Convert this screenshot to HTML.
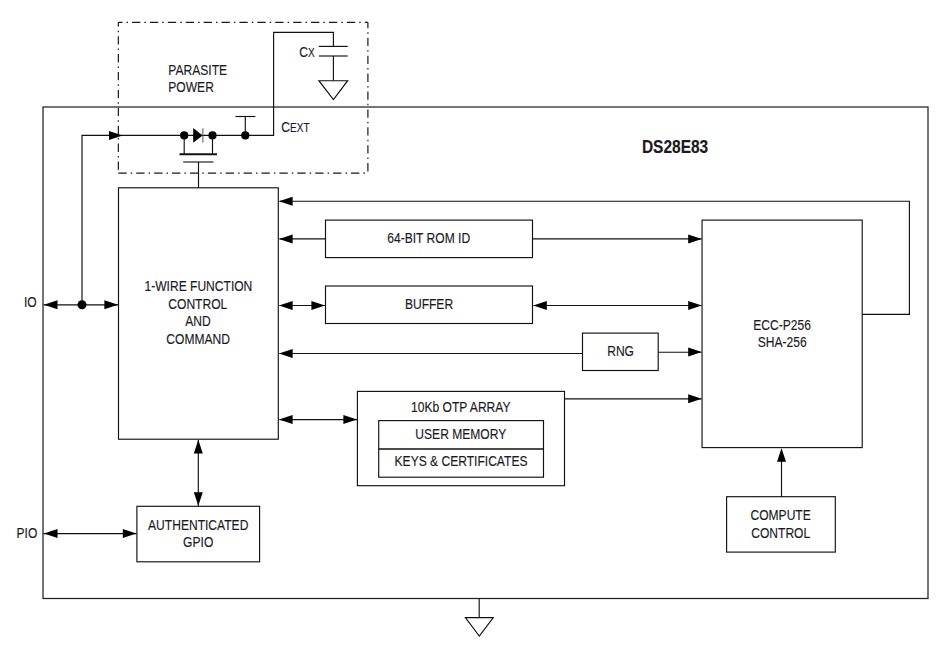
<!DOCTYPE html>
<html><head><meta charset="utf-8"><title>DS28E83 Block Diagram</title>
<style>
html,body{margin:0;padding:0;background:#fff;}
body{width:951px;height:655px;overflow:hidden;}
svg{display:block;}
svg text{font-family:"Liberation Sans",sans-serif;fill:#1b1b1f;stroke:#1b1b1f;stroke-width:0.16px;}
</style></head><body>
<svg width="951" height="655" viewBox="0 0 951 655">
<rect x="0" y="0" width="951" height="655" fill="#fff"/>
<rect x="43.0" y="107.0" width="885.0" height="491.5" fill="none" stroke="#222" stroke-width="1.25"/>
<line x1="118.35" y1="22.3" x2="367.9" y2="22.3" stroke="#1a1a1a" stroke-width="1.2" stroke-dasharray="8.3 4.05 1.5 4.05" stroke-dashoffset="4.2"/>
<line x1="367.9" y1="22.3" x2="367.9" y2="173.1" stroke="#1a1a1a" stroke-width="1.2" stroke-dasharray="8.3 4.05 1.5 4.05" stroke-dashoffset="2.4"/>
<line x1="118.35" y1="22.3" x2="118.35" y2="173.1" stroke="#1a1a1a" stroke-width="1.2" stroke-dasharray="8.3 4.05 1.5 4.05" stroke-dashoffset="4.0"/>
<line x1="118.35" y1="173.1" x2="367.9" y2="173.1" stroke="#1a1a1a" stroke-width="1.2" stroke-dasharray="8.3 4.05 1.5 4.05" stroke-dashoffset="0"/>
<rect x="118.5" y="187.8" width="159.8" height="251.4" fill="none" stroke="#111" stroke-width="1.15"/>
<rect x="325.5" y="220.1" width="207.0" height="37.5" fill="none" stroke="#111" stroke-width="1.15"/>
<rect x="325.5" y="286.0" width="207.0" height="37.5" fill="none" stroke="#111" stroke-width="1.15"/>
<rect x="582.5" y="333.1" width="75.7" height="37.4" fill="none" stroke="#111" stroke-width="1.15"/>
<rect x="702.05" y="220.1" width="160.15" height="227.5" fill="none" stroke="#111" stroke-width="1.15"/>
<rect x="357.4" y="391.4" width="207.1" height="94.3" fill="none" stroke="#111" stroke-width="1.15"/>
<rect x="378.7" y="420.6" width="164.8" height="56.6" fill="none" stroke="#111" stroke-width="1.15"/>
<line x1="378.7" y1="449.0" x2="543.5" y2="449.0" stroke="#111" stroke-width="1.6" />
<rect x="726.6" y="496.7" width="108.7" height="55.4" fill="none" stroke="#111" stroke-width="1.15"/>
<rect x="136.9" y="506.3" width="122.7" height="55.5" fill="none" stroke="#111" stroke-width="1.15"/>
<line x1="43.5" y1="304.8" x2="118.5" y2="304.8" stroke="#111" stroke-width="1.15" />
<polygon points="43.9,304.8 57.5,300.3 57.5,309.3" fill="#000"/>
<polygon points="118.0,304.8 104.4,300.3 104.4,309.3" fill="#000"/>
<circle cx="82.0" cy="304.8" r="4.5" fill="#000"/>
<polyline points="82.0,304.8 82.0,135.4 273.6,135.4 273.6,32.4 333.4,32.4 333.4,46.4" fill="none" stroke="#111" stroke-width="1.15" stroke-linejoin="miter" />
<polygon points="122.6,135.4 109.0,130.9 109.0,139.9" fill="#000"/>
<circle cx="184.2" cy="135.4" r="4.1" fill="#000"/>
<circle cx="212.5" cy="135.4" r="4.1" fill="#000"/>
<circle cx="245.3" cy="135.4" r="4.1" fill="#000"/>
<polygon points="193.2,128.1 193.2,142.7 202.6,135.4" fill="#000"/>
<line x1="202.9" y1="128.3" x2="202.9" y2="142.6" stroke="#555" stroke-width="1.0" />
<line x1="184.2" y1="135.4" x2="184.2" y2="154.2" stroke="#111" stroke-width="1.15" />
<line x1="212.5" y1="135.4" x2="212.5" y2="154.2" stroke="#111" stroke-width="1.15" />
<line x1="179.5" y1="154.3" x2="217.0" y2="154.3" stroke="#111" stroke-width="2.0" />
<line x1="183.2" y1="162.0" x2="213.5" y2="162.0" stroke="#222" stroke-width="1.2" />
<line x1="198.5" y1="162.0" x2="198.5" y2="187.8" stroke="#111" stroke-width="1.15" />
<line x1="235.5" y1="116.5" x2="255.4" y2="116.5" stroke="#111" stroke-width="1.15" />
<line x1="245.3" y1="116.5" x2="245.3" y2="135.4" stroke="#111" stroke-width="1.15" />
<line x1="318.8" y1="46.4" x2="347.7" y2="46.4" stroke="#111" stroke-width="1.15" />
<line x1="318.8" y1="56.0" x2="347.7" y2="56.0" stroke="#111" stroke-width="1.15" />
<line x1="333.4" y1="56.0" x2="333.4" y2="80.7" stroke="#111" stroke-width="1.15" />
<polygon points="318.9,80.7 347.7,80.7 333.4,99.5" fill="none" stroke="#111" stroke-width="1.15"/>
<polyline points="862.2,314.3 909.4,314.3 909.4,201.2 279.5,201.2" fill="none" stroke="#111" stroke-width="1.15" stroke-linejoin="miter" />
<polygon points="279.0,201.2 292.6,196.7 292.6,205.7" fill="#000"/>
<line x1="279.5" y1="238.9" x2="325.5" y2="238.9" stroke="#111" stroke-width="1.15" />
<polygon points="279.0,238.9 292.6,234.4 292.6,243.4" fill="#000"/>
<line x1="532.5" y1="238.9" x2="701.5" y2="238.9" stroke="#111" stroke-width="1.15" />
<polygon points="701.8,238.9 688.2,234.4 688.2,243.4" fill="#000"/>
<line x1="279.5" y1="305.5" x2="325.0" y2="305.5" stroke="#111" stroke-width="1.15" />
<polygon points="279.0,305.5 292.6,301.0 292.6,310.0" fill="#000"/>
<polygon points="325.0,305.5 311.4,301.0 311.4,310.0" fill="#000"/>
<line x1="533.5" y1="305.5" x2="701.5" y2="305.5" stroke="#111" stroke-width="1.15" />
<polygon points="533.2,305.5 546.8,301.0 546.8,310.0" fill="#000"/>
<polygon points="701.8,305.5 688.2,301.0 688.2,310.0" fill="#000"/>
<line x1="279.5" y1="353.5" x2="582.5" y2="353.5" stroke="#111" stroke-width="1.15" />
<polygon points="279.0,353.5 292.6,349.0 292.6,358.0" fill="#000"/>
<line x1="658.2" y1="352.2" x2="701.5" y2="352.2" stroke="#111" stroke-width="1.15" />
<polygon points="701.8,352.1 688.2,347.6 688.2,356.6" fill="#000"/>
<line x1="279.5" y1="419.6" x2="357.0" y2="419.6" stroke="#111" stroke-width="1.15" />
<polygon points="279.0,419.6 292.6,415.1 292.6,424.1" fill="#000"/>
<polygon points="357.0,419.6 343.4,415.1 343.4,424.1" fill="#000"/>
<line x1="564.5" y1="398.8" x2="701.5" y2="398.8" stroke="#111" stroke-width="1.15" />
<polygon points="701.8,398.8 688.2,394.3 688.2,403.3" fill="#000"/>
<line x1="781.5" y1="496.7" x2="781.5" y2="449.0" stroke="#111" stroke-width="1.15" />
<polygon points="781.5,448.2 777.0,461.8 786.0,461.8" fill="#000"/>
<line x1="198.3" y1="440.0" x2="198.3" y2="506.0" stroke="#111" stroke-width="1.15" />
<polygon points="198.3,439.8 193.8,453.4 202.8,453.4" fill="#000"/>
<polygon points="198.3,505.8 193.8,492.2 202.8,492.2" fill="#000"/>
<line x1="43.5" y1="533.6" x2="136.5" y2="533.6" stroke="#111" stroke-width="1.15" />
<polygon points="43.9,533.6 57.5,529.1 57.5,538.1" fill="#000"/>
<polygon points="136.4,533.6 122.8,529.1 122.8,538.1" fill="#000"/>
<line x1="479.2" y1="598.5" x2="479.2" y2="617.6" stroke="#111" stroke-width="1.15" />
<polygon points="465.4,617.6 493.3,617.6 479.3,636.0" fill="none" stroke="#111" stroke-width="1.15"/>
<text transform="translate(168.3,74.7) scale(0.815,1)" text-anchor="start" font-size="14.8">PARASITE</text>
<text transform="translate(168.3,91.8) scale(0.815,1)" text-anchor="start" font-size="14.8">POWER</text>
<text transform="translate(198.4,291.4) scale(0.815,1)" text-anchor="middle" font-size="14.8">1-WIRE FUNCTION</text>
<text transform="translate(197.8,308.6) scale(0.815,1)" text-anchor="middle" font-size="14.8">CONTROL</text>
<text transform="translate(197.9,326.3) scale(0.815,1)" text-anchor="middle" font-size="14.8">AND</text>
<text transform="translate(198.2,343.7) scale(0.815,1)" text-anchor="middle" font-size="14.8">COMMAND</text>
<text transform="translate(428.7,242.6) scale(0.815,1)" text-anchor="middle" font-size="14.8">64-BIT ROM ID</text>
<text transform="translate(429.0,308.8) scale(0.815,1)" text-anchor="middle" font-size="14.8">BUFFER</text>
<text transform="translate(620.6,355.7) scale(0.815,1)" text-anchor="middle" font-size="14.8">RNG</text>
<text transform="translate(782.1,329.6) scale(0.815,1)" text-anchor="middle" font-size="14.8">ECC-P256</text>
<text transform="translate(782.2,346.7) scale(0.815,1)" text-anchor="middle" font-size="14.8">SHA-256</text>
<text transform="translate(460.8,412.4) scale(0.815,1)" text-anchor="middle" font-size="14.8">10Kb OTP ARRAY</text>
<text transform="translate(460.8,438.6) scale(0.815,1)" text-anchor="middle" font-size="14.8">USER MEMORY</text>
<text transform="translate(461.0,466.4) scale(0.815,1)" text-anchor="middle" font-size="14.8">KEYS &amp; CERTIFICATES</text>
<text transform="translate(780.6,519.8) scale(0.815,1)" text-anchor="middle" font-size="14.8">COMPUTE</text>
<text transform="translate(780.7,537.5) scale(0.815,1)" text-anchor="middle" font-size="14.8">CONTROL</text>
<text transform="translate(198.2,529.5) scale(0.815,1)" text-anchor="middle" font-size="14.8">AUTHENTICATED</text>
<text transform="translate(198.2,546.5) scale(0.815,1)" text-anchor="middle" font-size="14.8">GPIO</text>
<text transform="translate(16.5,537.9) scale(0.815,1)" text-anchor="start" font-size="14.8">PIO</text>
<text transform="translate(24.0,306.8) scale(0.815,1)" text-anchor="start" font-size="14.8">IO</text>
<text transform="translate(641.9,152.6) scale(0.815,1)" text-anchor="start" font-size="19.0" font-weight="bold">DS28E83</text>
<text transform="translate(299.2,57.2) scale(0.815,1)" font-size="14.8">C<tspan font-size="12.3">X</tspan></text>
<text transform="translate(281.3,132.4) scale(0.815,1)" font-size="14.8">C<tspan font-size="12.3">EXT</tspan></text>
</svg>
</body></html>
